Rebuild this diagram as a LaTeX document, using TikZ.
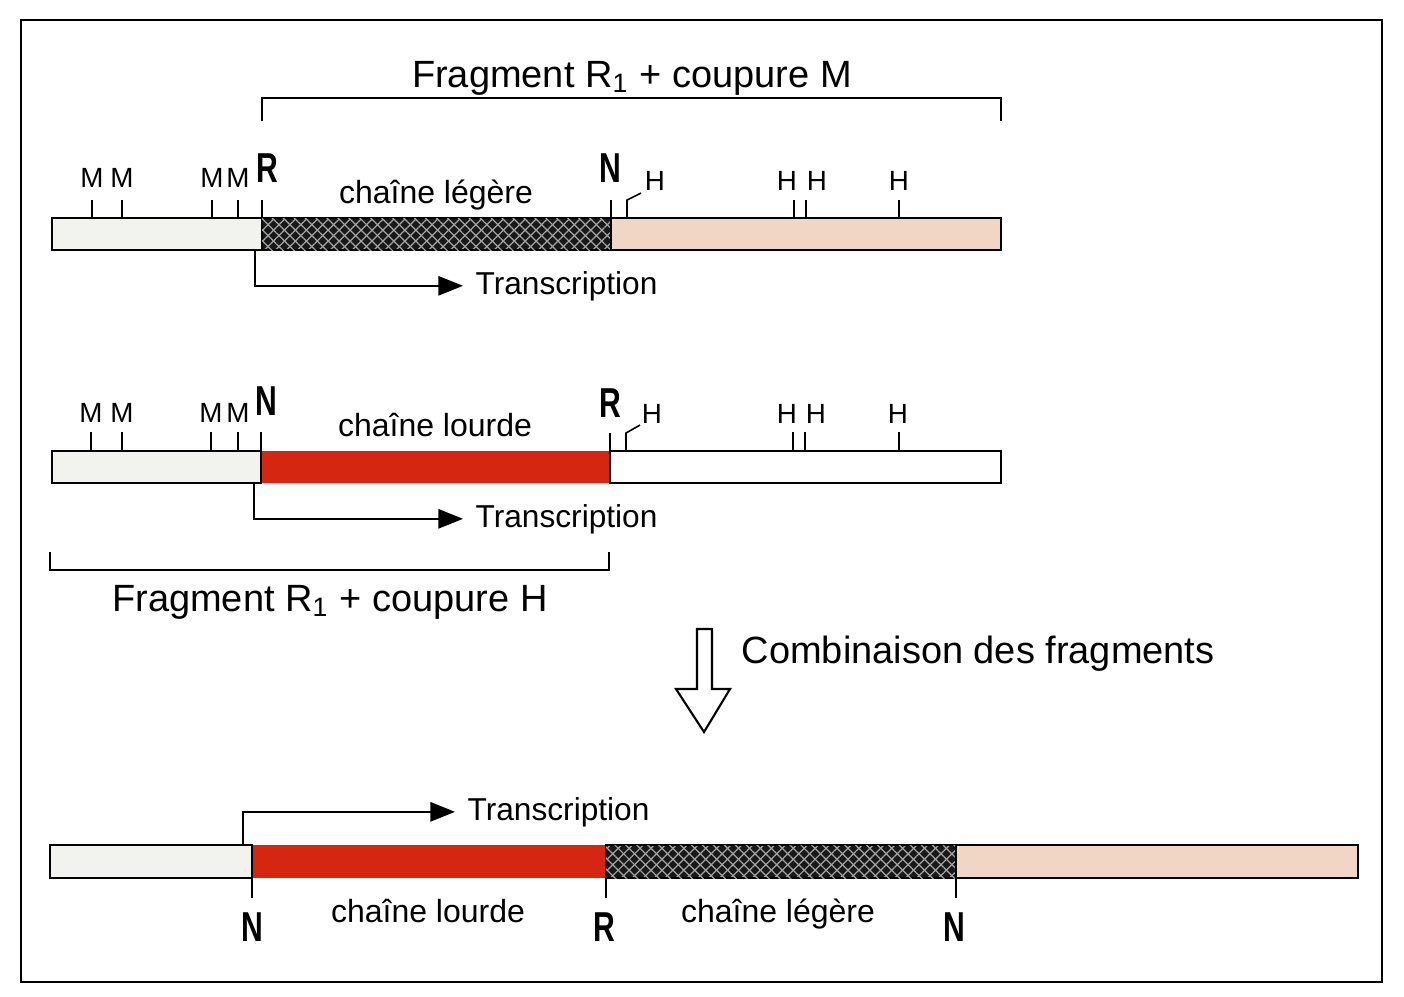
\documentclass[tikz,border=0pt]{standalone}
\usepackage{fontspec}
\setmainfont{Liberation Sans}
\usetikzlibrary{arrows.meta,positioning,fit,patterns.meta}

\definecolor{pale}{RGB}{242,242,238}
\definecolor{rose}{RGB}{241,213,197}
\definecolor{heavy}{RGB}{212,38,16}
\definecolor{hatchbg}{RGB}{24,24,24}
\definecolor{hatchfg}{RGB}{165,165,165}

\newcommand{\cond}[1]{\scalebox{0.72}[1]{#1}}

\tikzset{
  segbox/.style={inner sep=0pt, draw, line width=0.6pt},
  redbox/.style={inner sep=0pt, fill=heavy},
  hatchbox/.style={inner sep=0pt, draw, line width=0.6pt, preaction={fill=hatchbg},
    pattern={Lines[angle=45,distance=2.2pt,line width=0.35pt]}, pattern color=hatchfg,
    postaction={pattern={Lines[angle=-45,distance=2.2pt,line width=0.35pt]}, pattern color=hatchfg}},
  sitelab/.style={font=\fontsize{7.9}{9}\selectfont, anchor=base, inner sep=0pt},
  endlab/.style={font=\bfseries\fontsize{11.9}{14}\selectfont, anchor=base, inner sep=0pt},
  chainlab/.style={font=\fontsize{9.1}{11}\selectfont, anchor=base, inner sep=0pt},
  translab/.style={font=\fontsize{9}{11}\selectfont, anchor=base west, inner xsep=3.4pt, inner ysep=0pt},
  biglab/.style={font=\fontsize{10.8}{13}\selectfont, anchor=base, inner sep=0pt},
  tickline/.style={line width=0.45pt},
  transarrow/.style={line width=0.5pt, -{Triangle[length=7pt,width=5.5pt]}}
}

\begin{document}
\begin{tikzpicture}[x=0.01cm,y=-0.01cm]
  \useasboundingbox (0,0) rectangle (1404,996);
  % Frame
  \draw[line width=0.75pt] (21,20) rectangle (1382,982);

  % Fragment R1 + coupure M
  \node[biglab] (fragM) at (632,87) {Fragment R\textsubscript{1} + coupure M};
  \coordinate (bM1) at (262,121);
  \coordinate (bMt) at (262,98);
  \coordinate (bM2) at (1001,121);
  \draw[tickline] (bM1) -- (bMt) -| (bM2);

  % Bar 1
  \node[segbox, fill=pale, fit={(52,218) (262,250)}] (l1a) {};
  \node[hatchbox, fit={(262,218) (611,250)}] (l1b) {};
  \node[segbox, fill=rose, fit={(611,218) (1001,250)}] (l1c) {};

  \foreach \x in {92,122,212,238} {
    \coordinate (m1\x) at (\x,200);
    \draw[tickline] (m1\x) -- (m1\x |- l1a.north);
    \node[sitelab] (M1\x) at (\x,187) {M};
  }
  \coordinate (r1) at (262,200);
  \draw[tickline] (r1) -- (r1 |- l1b.north);
  \node[endlab] (R1) at (267,182) {\cond{R}};
  \coordinate (n1) at (611,200);
  \draw[tickline] (n1) -- (n1 |- l1c.north);
  \node[endlab] (N1) at (610,182) {\cond{N}};
  \coordinate (h1a) at (627,200);
  \coordinate (h1k) at (641,193);
  \draw[tickline] (h1k) -- (h1a) -- (h1a |- l1c.north);
  \node[sitelab] (H1a) at (655,190) {H};
  \foreach \x/\l in {794/787, 806/817, 899/899} {
    \coordinate (h1\x) at (\x,200);
    \draw[tickline] (h1\x) -- (h1\x |- l1c.north);
    \node[sitelab] (H1\x) at (\l,190) {H};
  }
  \node[chainlab] (ch1) at (436,203) {chaîne légère};

  \coordinate (s1) at (255,250);
  \node[translab] (T1) at (463,294) {Transcription};
  \draw[transarrow] (s1) |- (T1.west);

  % Bar 2
  \node[redbox, fit={(261,451) (610,483)}] (l2b) {};
  \node[segbox, fill=pale, fit={(52,451) (261,483)}] (l2a) {};
  \node[segbox, fill=white, fit={(610,451) (1001,483)}] (l2c) {};

  \foreach \x in {91,122,211,238} {
    \coordinate (m2\x) at (\x,432);
    \draw[tickline] (m2\x) -- (m2\x |- l2a.north);
    \node[sitelab] (M2\x) at (\x,422) {M};
  }
  \coordinate (n2) at (261,432);
  \draw[tickline] (n2) -- (n2 |- l2a.north);
  \node[endlab] (N2) at (266,415) {\cond{N}};
  \coordinate (r2) at (610,433);
  \draw[tickline] (r2) -- (r2 |- l2c.north);
  \node[endlab] (R2) at (610,417) {\cond{R}};
  \coordinate (h2a) at (626,433);
  \coordinate (h2k) at (640,425);
  \draw[tickline] (h2k) -- (h2a) -- (h2a |- l2c.north);
  \node[sitelab] (H2a) at (652,423) {H};
  \foreach \x/\l in {793/787, 805/816, 899/898} {
    \coordinate (h2\x) at (\x,432);
    \draw[tickline] (h2\x) -- (h2\x |- l2c.north);
    \node[sitelab] (H2\x) at (\l,423) {H};
  }
  \node[chainlab] (ch2) at (435,436) {chaîne lourde};

  \coordinate (s2) at (254,483);
  \node[translab] (T2) at (463,527) {Transcription};
  \draw[transarrow] (s2) |- (T2.west);

  % Fragment R1 + coupure H
  \coordinate (bH1) at (50,552);
  \coordinate (bHb) at (50,570);
  \coordinate (bH2) at (609,552);
  \draw[tickline] (bH1) -- (bHb) -| (bH2);
  \node[biglab] (fragH) at (330,611) {Fragment R\textsubscript{1} + coupure H};

  % Combinaison
  \draw[line width=0.6pt] (697,629) -- (712,629) -- (712,689) -- (730,689)
    -- (704,732) -- (676,689) -- (697,689) -- cycle;
  \node[biglab, anchor=base west] (comb) at (741,663) {Combinaison des fragments};

  % Bar 3
  \node[redbox, fit={(252,845) (606,878)}] (l3b) {};
  \node[segbox, fill=pale, fit={(50,845) (252,878)}] (l3a) {};
  \node[hatchbox, fit={(606,845) (956,878)}] (l3c) {};
  \node[segbox, fill=rose, fit={(956,845) (1358,878)}] (l3d) {};

  \coordinate (n3) at (252,898);
  \draw[tickline] (n3) -- (n3 |- l3a.south);
  \node[endlab] (N3) at (252,941) {\cond{N}};
  \coordinate (r3) at (606,898);
  \draw[tickline] (r3) -- (r3 |- l3b.south);
  \node[endlab] (R3) at (604,941) {\cond{R}};
  \coordinate (n4) at (956,898);
  \draw[tickline] (n4) -- (n4 |- l3c.south);
  \node[endlab] (N4) at (954,941) {\cond{N}};

  \node[chainlab] (ch3) at (428,922) {chaîne lourde};
  \node[chainlab] (ch4) at (778,922) {chaîne légère};

  \coordinate (s3) at (243,845);
  \node[translab] (T3) at (455,820) {Transcription};
  \draw[transarrow] (s3) |- (T3.west);
\end{tikzpicture}
\end{document}
